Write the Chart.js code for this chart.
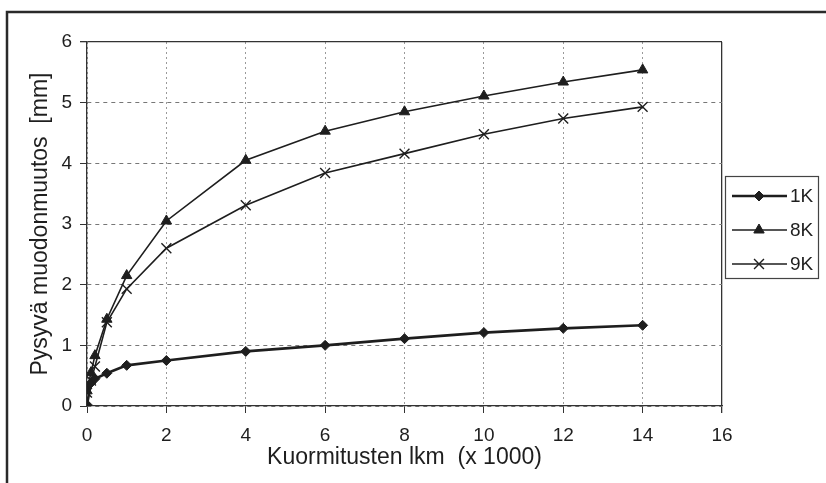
<!DOCTYPE html>
<html>
<head>
<meta charset="utf-8">
<script src="https://cdn.jsdelivr.net/npm/chart.js@4/dist/chart.umd.min.js"></script>
<style>
  html, body { margin: 0; padding: 0; background: #fff; }
  #wrap { width: 826px; height: 483px; }
</style>
</head>
<body>
<div id="wrap"><canvas id="deformChart" width="826" height="483"></canvas></div>
<script>
// load repetitions (x 1000)
const loadCounts = [0, 0.1, 0.2, 0.5, 1, 2, 4, 6, 8, 10, 12, 14];
// permanent deformation, mm
const def1K = [0.02, 0.38, 0.45, 0.54, 0.67, 0.75, 0.9, 1.0, 1.11, 1.21, 1.28, 1.33];
const def8K = [0.25, 0.55, 0.83, 1.43, 2.15, 3.05, 4.05, 4.53, 4.85, 5.11, 5.34, 5.54];
const def9K = [0.22, 0.42, 0.65, 1.38, 1.93, 2.6, 3.31, 3.84, 4.16, 4.48, 4.74, 4.93];
const seriesNames = ['1K', '8K', '9K'];
const xTicks = [0, 2, 4, 6, 8, 10, 12, 14, 16];
const yTicks = [0, 1, 2, 3, 4, 5, 6];

const FONT = '"Liberation Sans", Arial, sans-serif';
const INK = '#1e1e1e';

function toPoints(ys) {
    return loadCounts.map((x, i) => ({ x: x, y: ys[i] }));
}

// outer frame (top + left only) and the boxed legend on the right
const framePlugin = {
    id: 'frame',
    afterDraw(chart) {
        const ctx = chart.ctx;
        ctx.save();
        ctx.strokeStyle = '#2a2a2a';
        ctx.lineWidth = 2.5;
        ctx.beginPath();
        ctx.moveTo(826, 12);
        ctx.lineTo(7, 12);
        ctx.lineTo(7, 483);
        ctx.stroke();

        // legend box
        const bx = 725, by = 176, bw = 93, bh = 102;
        ctx.fillStyle = '#fff';
        ctx.fillRect(bx, by, bw, bh);
        ctx.strokeStyle = '#444';
        ctx.lineWidth = 1.2;
        ctx.strokeRect(bx + 0.5, by + 0.5, bw, bh);

        const rows = [196, 230, 264];
        ctx.font = '19px ' + FONT;
        ctx.textBaseline = 'middle';
        ctx.textAlign = 'left';
        chart.data.datasets.forEach((ds, i) => {
            const y = rows[i];
            ctx.strokeStyle = ds.borderColor;
            ctx.lineWidth = ds.borderWidth;
            ctx.beginPath();
            ctx.moveTo(732, y);
            ctx.lineTo(787, y);
            ctx.stroke();
            ctx.fillStyle = ds.pointBackgroundColor;
            ctx.strokeStyle = ds.pointBorderColor;
            ctx.lineWidth = ds.pointBorderWidth;
            Chart.helpers.drawPoint(ctx, {
                pointStyle: ds.pointStyle,
                radius: ds.pointRadius,
                borderWidth: ds.pointBorderWidth
            }, 759, y);
            ctx.fillStyle = INK;
            ctx.fillText(ds.label, 790, y + 1);
        });
        ctx.restore();
    }
};

const ctx = document.getElementById('deformChart').getContext('2d');
window.deformChart = new Chart(ctx, {
    type: 'scatter',
    data: {
        datasets: [{
            label: seriesNames[0],
            data: toPoints(def1K),
            showLine: true,
            borderColor: INK,
            backgroundColor: INK,
            borderWidth: 2.6,
            pointStyle: 'rectRot',
            pointRadius: 5,
            pointBorderWidth: 1,
            pointBackgroundColor: INK,
            pointBorderColor: INK
        }, {
            label: seriesNames[1],
            data: toPoints(def8K),
            showLine: true,
            borderColor: INK,
            backgroundColor: INK,
            borderWidth: 1.6,
            pointStyle: 'triangle',
            pointRadius: 6,
            pointBorderWidth: 1,
            pointBackgroundColor: INK,
            pointBorderColor: INK
        }, {
            label: seriesNames[2],
            data: toPoints(def9K),
            showLine: true,
            borderColor: INK,
            backgroundColor: INK,
            borderWidth: 1.6,
            pointStyle: 'crossRot',
            pointRadius: 7,
            pointBorderWidth: 1.4,
            pointBackgroundColor: INK,
            pointBorderColor: INK
        }]
    },
    options: {
        responsive: false,
        animation: false,
        layout: { padding: { top: 42, right: 104, left: 0, bottom: 0 } },
        plugins: {
            legend: { display: false },
            tooltip: { enabled: false }
        },
        scales: {
            x: {
                type: 'linear',
                min: 0,
                max: 16,
                afterFit(scale) { scale.height = 77; },
                afterBuildTicks(scale) { scale.ticks = xTicks.map(v => ({ value: v })); },
                ticks: {
                    color: INK,
                    font: { family: FONT, size: 19 },
                    padding: 11,
                    maxRotation: 0
                },
                grid: {
                    color: c => (c.tick && c.tick.value === 16) ? '#333' : '#9a9a9a',
                    lineWidth: c => (c.tick && c.tick.value === 16) ? 1.3 : 1,
                    tickColor: '#333',
                    tickLength: 7,
                    drawTicks: true
                },
                border: {
                    display: true,
                    color: '#333',
                    width: 1.3,
                    dash: c => (c.tick && c.tick.value === 16) ? [] : [2, 3]
                },
                title: {
                    display: true,
                    text: 'Kuormitusten lkm  (x 1000)',
                    color: INK,
                    font: { family: FONT, size: 23 },
                    padding: { top: 0, bottom: 12 }
                }
            },
            y: {
                type: 'linear',
                min: 0,
                max: 6,
                afterFit(scale) { scale.width = 87; },
                afterBuildTicks(scale) { scale.ticks = yTicks.map(v => ({ value: v })); },
                ticks: {
                    color: INK,
                    font: { family: FONT, size: 19 },
                    padding: 8
                },
                grid: {
                    color: c => (c.tick && c.tick.value === 6) ? '#333' : '#777',
                    lineWidth: c => (c.tick && c.tick.value === 6) ? 1.3 : 1,
                    tickColor: '#333',
                    tickLength: 7,
                    drawTicks: true
                },
                border: {
                    display: true,
                    color: '#333',
                    width: 1.3,
                    dash: c => (c.tick && c.tick.value === 6) ? [] : [4, 4]
                },
                title: {
                    display: true,
                    text: 'Pysyvä muodonmuutos  [mm]',
                    color: INK,
                    font: { family: FONT, size: 23 },
                    padding: { top: 27, bottom: 0 }
                }
            }
        }
    },
    plugins: [framePlugin]
});
</script>
</body>
</html>
